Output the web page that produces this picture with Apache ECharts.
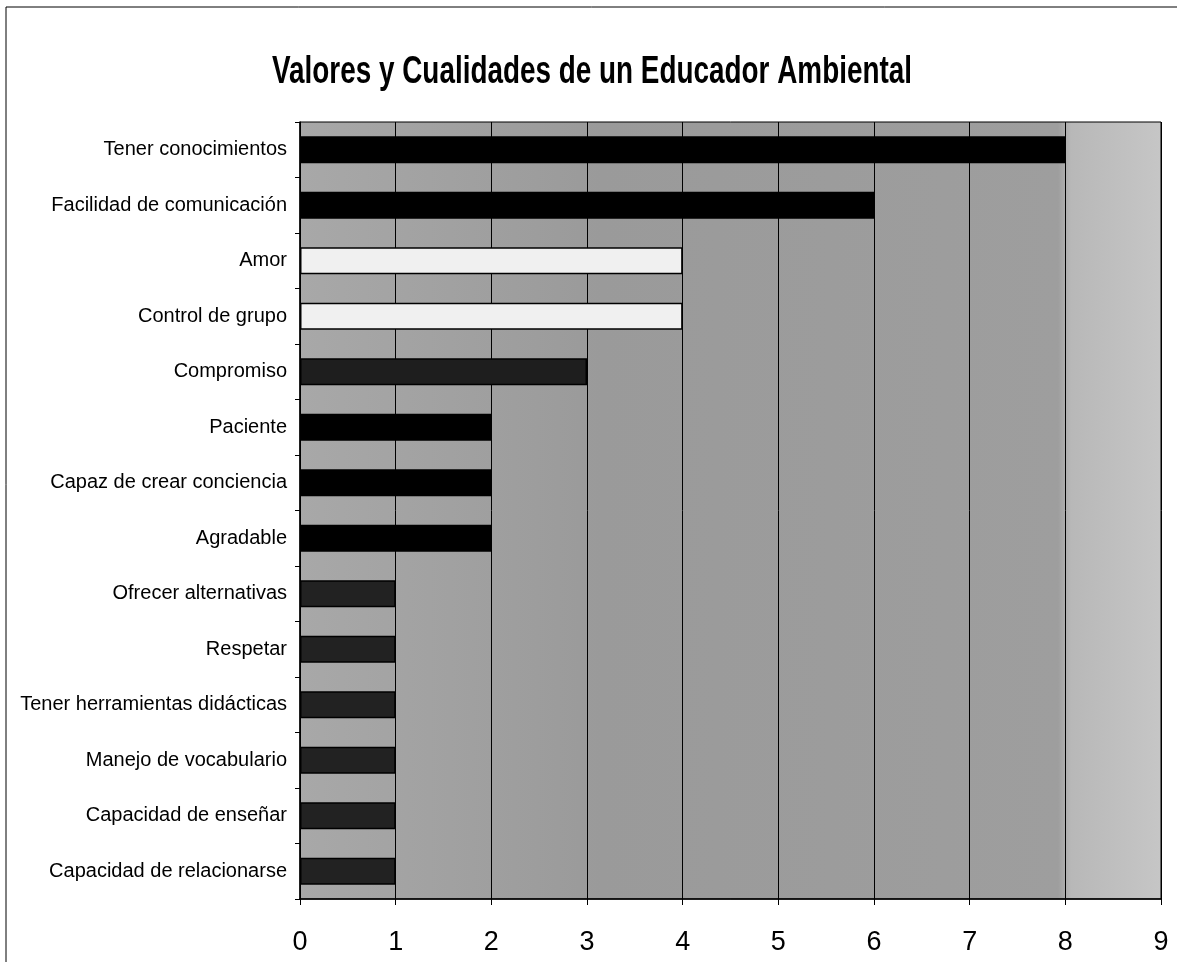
<!DOCTYPE html>
<html>
<head>
<meta charset="utf-8">
<script src="https://cdn.jsdelivr.net/npm/echarts@6/dist/echarts.min.js"></script>
<style>
html,body{margin:0;padding:0;background:#fff;}
#c{width:1177px;height:962px;}
</style>
</head>
<body>
<div id="c"></div>
<script>
const title = 'Valores y Cualidades de un Educador Ambiental';
const categories = [
  'Tener conocimientos',
  'Facilidad de comunicación',
  'Amor',
  'Control de grupo',
  'Compromiso',
  'Paciente',
  'Capaz de crear conciencia',
  'Agradable',
  'Ofrecer alternativas',
  'Respetar',
  'Tener herramientas didácticas',
  'Manejo de vocabulario',
  'Capacidad de enseñar',
  'Capacidad de relacionarse'
];
const values = [8, 6, 4, 4, 3, 2, 2, 2, 1, 1, 1, 1, 1, 1];
const xTicks = [0, 1, 2, 3, 4, 5, 6, 7, 8, 9];

// styles (separate from data)
const fillFor = ['#000000','#000000','#f0f0f0','#f0f0f0','#1e1e1e','#000000','#000000','#000000','#222222','#222222','#222222','#222222','#222222','#222222'];

const chart = echarts.init(document.getElementById('c'), null, {renderer: 'canvas'});
const sans = '"Liberation Sans", Arial, sans-serif';

chart.setOption({
  animation: false,
  backgroundColor: '#ffffff',
  grid: {left: 300, right: 16, top: 122, bottom: 63, show: true, borderColor: '#000', borderWidth: 1,
    backgroundColor: {type: 'linear', x: 0, y: 0, x2: 1, y2: 0, colorStops: [
      {offset: 0, color: '#a8a8a8'}, {offset: 0.35, color: '#9a9a9a'}, {offset: 0.88, color: '#9e9e9e'}, {offset: 0.895, color: '#b8b8b8'}, {offset: 1, color: '#c6c6c6'}]}},
  xAxis: {
    type: 'value', min: xTicks[0], max: xTicks[xTicks.length - 1], interval: 1,
    axisLine: {show: true, lineStyle: {color: '#000', width: 1.5}},
    axisTick: {show: true, length: 6, lineStyle: {color: '#000'}},
    splitLine: {show: true, lineStyle: {color: '#000', width: 1}},
    axisLabel: {fontFamily: sans, fontSize: 27, color: '#000', margin: 30}
  },
  yAxis: {
    type: 'category', data: categories, inverse: true,
    axisLine: {show: true, lineStyle: {color: '#000', width: 1.5}},
    axisTick: {show: true, length: 5, lineStyle: {color: '#000'}},
    axisLabel: {fontFamily: sans, fontSize: 20, color: '#000', margin: 13}
  },
  series: [{
    type: 'bar',
    barWidth: 27,
    data: values.map((v, i) => ({value: v, itemStyle: {color: fillFor[i], borderColor: '#000', borderWidth: 1.5}}))
  }],
  graphic: [
    {type: 'line', shape: {x1: 6, y1: 7, x2: 1177, y2: 7}, style: {stroke: '#000', lineWidth: 1}},
    {type: 'line', shape: {x1: 6, y1: 7, x2: 6, y2: 962}, style: {stroke: '#000', lineWidth: 1}},
    {type: 'text', x: 592, y: 72, scaleX: 0.715, scaleY: 1,
      style: {text: title, fill: '#000', font: 'bold 39px "Liberation Sans", Arial, sans-serif', align: 'center', verticalAlign: 'middle'}}
  ]
});
</script>
</body>
</html>
